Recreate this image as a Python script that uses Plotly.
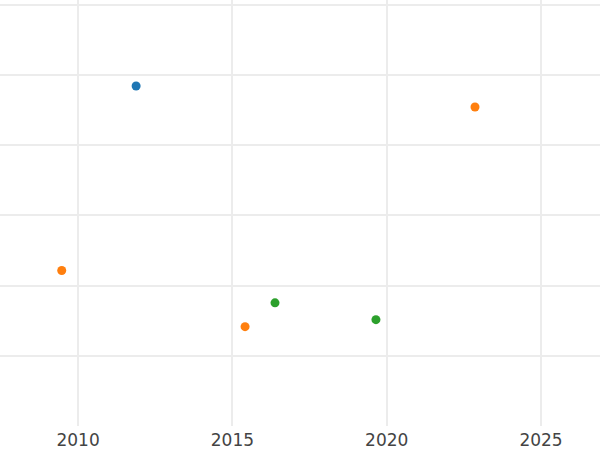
import plotly.graph_objects as go

series_names = ["A", "B", "C"]
series_colors = ["#1f77b4", "#ff7f0e", "#2ca02c"]
x_a = [2011.88]
y_a = [3.845]
x_b = [2022.86, 2009.47, 2015.41]
y_b = [3.545, 1.215, 0.415]
x_c = [2016.38, 2019.65]
y_c = [0.755, 0.515]

xs = [x_a, x_b, x_c]
ys = [y_a, y_b, y_c]

fig = go.Figure()
for name, color, x, y in zip(series_names, series_colors, xs, ys):
    fig.add_trace(go.Scatter(x=x, y=y, mode="markers", name=name,
                             marker=dict(color=color, size=9)))

fig.update_layout(
    margin=dict(l=0, r=0, t=0, b=24),
    paper_bgcolor="white", plot_bgcolor="white",
    showlegend=False,
    font=dict(family="DejaVu Sans", size=17, color="#444"),
    xaxis=dict(range=[2007.47, 2026.91], tickvals=[2010, 2015, 2020, 2025],
               showgrid=True, gridcolor="#ececec", gridwidth=2, zeroline=False,
               showline=False, ticks="", automargin=False, ticklabelstandoff=2),
    yaxis=dict(range=[-1.0, 5.07], dtick=1, showticklabels=False,
               showgrid=True, gridcolor="#ececec", gridwidth=1.5, zeroline=False,
               showline=False, ticks="", automargin=False),
)

post = ("document.documentElement.style.height='100%';"
        "document.body.style.margin='0';document.body.style.height='100%';"
        "var gd=document.getElementById('{plot_id}');"
        "gd.style.height='100vh';gd.style.width='100vw';"
        "Plotly.Plots.resize(gd);")

fig.write_html("out.html", post_script=post, config={"displayModeBar": False})
